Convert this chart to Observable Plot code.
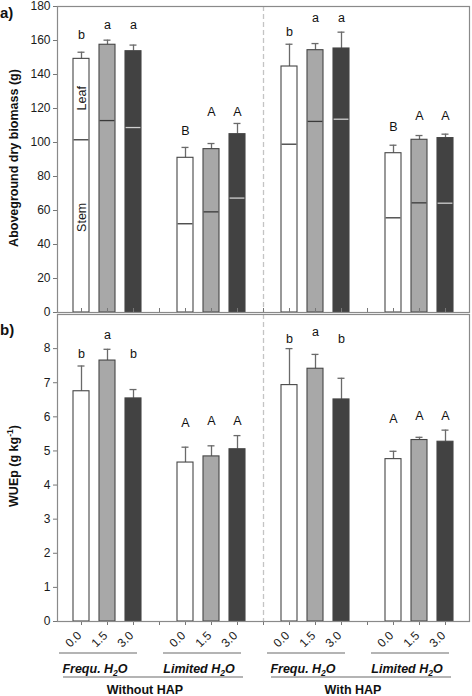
<!DOCTYPE html>
<html><head><meta charset="utf-8">
<script src="https://cdn.jsdelivr.net/npm/d3@7"></script>
<script src="https://cdn.jsdelivr.net/npm/@observablehq/plot@0.6"></script>
<style>
body{margin:0;background:#fff;}
#c{width:472px;}
#c svg{display:block;overflow:visible;background:none !important;}
</style>
</head><body><div id="c"></div>
<script>
// ---- data ----
const slots = ["W-F-0.0","W-F-1.5","W-F-3.0","gap1","W-L-0.0","W-L-1.5","W-L-3.0","gap2",
               "H-F-0.0","H-F-1.5","H-F-3.0","gap3","H-L-0.0","H-L-1.5","H-L-3.0"];
const barSlots = slots.filter(s => !s.startsWith("gap"));
const doses = ["0.0","1.5","3.0","0.0","1.5","3.0","0.0","1.5","3.0","0.0","1.5","3.0"];
const biomassTotal = [149.2,157.5,153.7, 91.0,96.1,104.9, 144.7,154.3,155.3, 93.7,101.6,102.6];
const biomassUpper = [153.1,160.2,157.3, 97.1,99.4,111.2, 157.8,158.2,164.9, 98.4,104.1,104.9];
const biomassStem  = [101.6,112.9,108.8, 52.2,59.2,67.3, 99.0,112.4,113.7, 55.7,64.5,64.3];
const biomassLetters = ["b","a","a","B","A","A","b","a","a","B","A","A"];
const biomassLetterY = [163,169.4,169.4, 107,117.8,117.8, 164.9,173,173, 109.4,115.5,115.5];
const wueMean  = [6.75,7.65,6.54, 4.66,4.84,5.05, 6.93,7.41,6.51, 4.76,5.32,5.27];
const wueUpper = [7.49,7.98,6.80, 5.11,5.15,5.45, 8.00,7.83,7.13, 4.99,5.40,5.61];
const wueLetters = ["b","a","b","A","A","A","b","a","b","A","A","A"];
const wueLetterY = [7.85,8.41,7.85, 5.83,5.89,5.89, 8.28,8.48,8.28, 5.94,6.01,6.01];
const partLabels = [{slot:"W-F-0.0", y:126, text:"Leaf"},{slot:"W-F-0.0", y:56, text:"Stem"}];
const biomassTicks = d3.range(0, 181, 20);
const wueTicks = d3.range(0, 9, 1);
const waterGroups = [
  {label:"Frequ. H", first:"W-F-0.0", mid:"W-F-1.5", last:"W-F-3.0"},
  {label:"Limited H", first:"W-L-0.0", mid:"W-L-1.5", last:"W-L-3.0"},
  {label:"Frequ. H", first:"H-F-0.0", mid:"H-F-1.5", last:"H-F-3.0"},
  {label:"Limited H", first:"H-L-0.0", mid:"H-L-1.5", last:"H-L-3.0"}
];
const hapGroups = [
  {label:"Without HAP", first:"W-F-0.0", last:"W-L-3.0"},
  {label:"With HAP", first:"H-F-0.0", last:"H-L-3.0"}
];

// ---- styling ----
const FONT = "Liberation Sans, Arial, sans-serif";
const fillOf = {"0.0":"#ffffff","1.5":"#a8a8a8","3.0":"#424242"};
const splitOf = {"0.0":"#3a3a3a","1.5":"#3a3a3a","3.0":"#d0d0d0"};

const biomass = barSlots.map((s,i)=>({slot:s, dose:doses[i], total:biomassTotal[i], upper:biomassUpper[i],
  stem:biomassStem[i], letter:biomassLetters[i], ly:biomassLetterY[i]}));
const wue = barSlots.map((s,i)=>({slot:s, dose:doses[i], mean:wueMean[i], upper:wueUpper[i],
  letter:wueLetters[i], ly:wueLetterY[i]}));

const xScale = {type:"band", domain:slots, paddingInner:0.38, paddingOuter:0.613};
const W = 472;

const chartA = Plot.plot({
  width: W, height: 313,
  marginTop: 6, marginBottom: 1, marginLeft: 57, marginRight: 3,
  style: {fontFamily: FONT, fontSize: "12px", color:"#1a1a1a", background:"none", overflow:"visible"},
  x: xScale,
  y: {domain:[0,180]},
  marks: [
    Plot.ruleX(["gap2"], {x: d=>d, stroke:"#c4c4c4", strokeWidth:1.3, strokeDasharray:"5,3"}),
    Plot.ruleX(biomass, {x:"slot", y1:"total", y2:"upper", stroke:"#6a6a6a", strokeWidth:1.3}),
    Plot.tickY(biomass, {x:"slot", y:"upper", stroke:"#6a6a6a", strokeWidth:1.3, insetLeft:4.5, insetRight:4.5}),
    Plot.barY(biomass, {x:"slot", y:"total", fill: d=>fillOf[d.dose], stroke:"#454545", strokeWidth:1.1}),
    Plot.tickY(biomass, {x:"slot", y:"stem", stroke: d=>splitOf[d.dose], strokeWidth:1.3, insetLeft:0.6, insetRight:0.6}),
    Plot.text(biomass, {x:"slot", y:"ly", text:"letter", fontSize:12.5, fill:"#111"}),
    Plot.text(partLabels, {x:"slot", y:"y", text:"text", rotate:-90, fontSize:12.5, fill:"#222"}),
    Plot.axisY({ticks: biomassTicks, tickSize:4, tickPadding:3, label:null, stroke:"#777"}),
    Plot.axisX({tickSize:-4, tickFormat:()=>"", label:null, stroke:"#777"}),
    Plot.frame({stroke:"#8a8a8a", strokeWidth:1.2})
  ]
});

const chartB = Plot.plot({
  width: W, height: 383,
  marginTop: 1, marginBottom: 75, marginLeft: 57, marginRight: 3,
  style: {fontFamily: FONT, fontSize: "12px", color:"#1a1a1a", background:"none", overflow:"visible"},
  x: xScale,
  y: {domain:[0,9]},
  marks: [
    Plot.ruleX(["gap2"], {x: d=>d, stroke:"#c4c4c4", strokeWidth:1.3, strokeDasharray:"5,3"}),
    Plot.ruleX(wue, {x:"slot", y1:"mean", y2:"upper", stroke:"#6a6a6a", strokeWidth:1.3}),
    Plot.tickY(wue, {x:"slot", y:"upper", stroke:"#6a6a6a", strokeWidth:1.3, insetLeft:4.5, insetRight:4.5}),
    Plot.barY(wue, {x:"slot", y:"mean", fill: d=>fillOf[d.dose], stroke:"#454545", strokeWidth:1.1}),
    Plot.text(wue, {x:"slot", y:"ly", text:"letter", fontSize:12.5, fill:"#111"}),
    Plot.text(wue, {x:"slot", y:() => 0, text:"dose", rotate:-45, dx:-8, dy:18, fontSize:12, fill:"#1a1a1a", textAnchor:"middle"}),
    Plot.axisY({ticks: wueTicks, tickSize:4, tickPadding:3, label:null, stroke:"#777"}),
    Plot.axisX({tickSize:4, tickFormat:()=>"", label:null, stroke:"#777"}),
    Plot.frame({stroke:"#8a8a8a", strokeWidth:1.2})
  ]
});

const root = document.getElementById("c");
root.appendChild(chartA);
root.appendChild(chartB);

function txt(svg, x, y, str, o={}) {
  const t = d3.select(svg).append("text").attr("x", x).attr("y", y)
    .attr("font-family", FONT).attr("font-size", o.size || 12)
    .attr("font-weight", o.weight || "normal").attr("font-style", o.style || "normal")
    .attr("text-anchor", o.anchor || "start").attr("fill", o.fill || "#111");
  if (o.rotate) t.attr("transform", `rotate(${o.rotate},${x},${y})`);
  t.text(str);
  return t;
}

// panel labels and axis titles
txt(chartA, 0, 18, "a)", {size:15, weight:"bold"});
txt(chartA, 18, 158, "Aboveground dry biomass (g)", {size:12.5, weight:"bold", anchor:"middle", rotate:-90});
txt(chartB, 0, 22, "b)", {size:15, weight:"bold"});
const wt = txt(chartB, 18, 153, "WUEp (g kg", {size:12.5, weight:"bold", anchor:"middle", rotate:-90});
wt.append("tspan").attr("font-size", 8.5).attr("dy", -5).text("-1");
wt.append("tspan").attr("dy", 5).text(")");

// bottom group annotations
const xs = chartB.scale("x");
const cx = k => xs.apply(k) + xs.bandwidth / 2;
const g = d3.select(chartB).append("g").attr("stroke", "#6a6a6a").attr("stroke-width", 1.1);
for (const wg of waterGroups) {
  g.append("line").attr("x1", cx(wg.first) - 22).attr("x2", cx(wg.last) + 4).attr("y1", 340).attr("y2", 340);
  const t = txt(chartB, cx(wg.mid) - 12, 360, wg.label, {size:12.5, weight:"bold", style:"italic", anchor:"middle"});
  t.append("tspan").attr("font-size", 8.5).attr("dy", 3).text("2");
  t.append("tspan").attr("dy", -3).text("O");
}
for (const hg of hapGroups) {
  g.append("line").attr("x1", cx(hg.first) - 18).attr("x2", cx(hg.last) + 6).attr("y1", 364).attr("y2", 364);
  txt(chartB, (cx(hg.first) + cx(hg.last)) / 2 - 14, 381, hg.label, {size:12.5, weight:"bold", anchor:"middle"});
}
</script>
</body></html>
